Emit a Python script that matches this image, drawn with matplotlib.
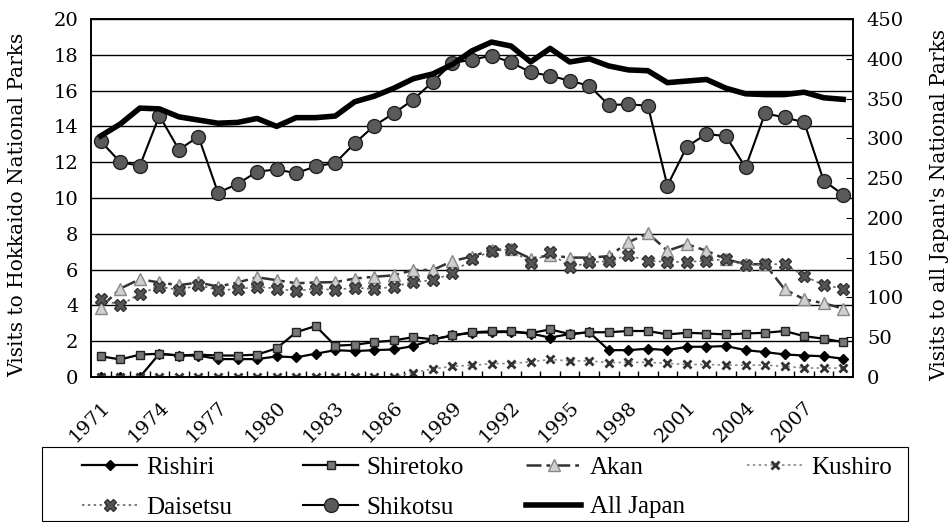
import numpy as np
import matplotlib
matplotlib.use("Agg")
import matplotlib.pyplot as plt
from matplotlib.patches import Rectangle

plt.rcParams['font.family'] = ['DejaVu Serif']

years = list(range(1971, 2010))

# million visits, left axis
rishiri = [0, 0, 0, 1.3, 1.2, 1.2, 1.0, 1.0, 1.0, 1.15, 1.1, 1.3, 1.5, 1.45,
           1.5, 1.54, 1.73, 2.1, 2.32, 2.47, 2.5, 2.52, 2.43, 2.2, 2.4, 2.5,
           1.5, 1.5, 1.58, 1.5, 1.69, 1.69, 1.73, 1.5, 1.39, 1.26, 1.2, 1.16, 1.02]
shiretoko = [1.16, 0.98, 1.25, 1.3, 1.2, 1.25, 1.2, 1.2, 1.25, 1.6, 2.5, 2.85,
             1.75, 1.8, 1.95, 2.04, 2.23, 2.1, 2.32, 2.5, 2.55, 2.55, 2.45, 2.66,
             2.4, 2.5, 2.5, 2.57, 2.57, 2.38, 2.47, 2.43, 2.38, 2.43, 2.47, 2.57,
             2.28, 2.14, 1.95]
akan = [3.88, 4.94, 5.46, 5.28, 5.13, 5.28, 5.05, 5.28, 5.57, 5.41, 5.24, 5.28,
        5.3, 5.5, 5.6, 5.68, 5.98, 5.98, 6.48, 6.73, 7.1, 7.13, 6.62, 6.8, 6.67,
        6.67, 6.75, 7.52, 8.04, 7.05, 7.42, 7.05, 6.58, 6.3, 6.3, 4.9, 4.34, 4.12, 3.82]
kushiro = [0, 0, 0, 0, 0, 0, 0, 0, 0, 0, 0, 0, 0, 0, 0, 0, 0.25, 0.45, 0.6,
           0.65, 0.75, 0.75, 0.85, 0.98, 0.9, 0.9, 0.8, 0.82, 0.82, 0.76, 0.7,
           0.7, 0.66, 0.66, 0.66, 0.6, 0.5, 0.5, 0.5]
daisetsu = [4.38, 4.0, 4.66, 5.05, 4.86, 5.13, 4.86, 4.9, 5.05, 4.94, 4.8, 4.94,
            4.86, 5.0, 4.9, 5.05, 5.31, 5.41, 5.8, 6.6, 7.02, 7.13, 6.36, 6.98,
            6.12, 6.4, 6.48, 6.8, 6.49, 6.43, 6.43, 6.49, 6.58, 6.25, 6.3, 6.3,
            5.65, 5.13, 4.94]
shikotsu = [13.17, 12.0, 11.8, 14.6, 12.7, 13.43, 10.3, 10.78, 11.47, 11.6,
            11.38, 11.77, 11.96, 13.06, 14.04, 14.73, 15.5, 16.5, 17.54, 17.73,
            17.95, 17.58, 17.02, 16.83, 16.55, 16.27, 15.2, 15.23, 15.16, 10.69,
            12.87, 13.58, 13.45, 11.71, 14.73, 14.5, 14.23, 10.97, 10.18]
# million visits, right axis
all_japan = [303, 318, 338, 337, 327, 323, 319, 320, 325, 315, 326, 326, 328,
             346, 353, 363, 375, 381, 393, 410, 421, 416, 396, 413, 396, 400,
             391, 386, 385, 370, 372, 374, 363, 356, 355, 355, 358, 351, 349]

x = np.arange(len(years))

fig = plt.figure(figsize=(9.52, 5.22), dpi=100)
ax = fig.add_axes([91/952, 1 - 377/522, (853 - 91)/952, (377 - 19)/522])
ax2 = ax.twinx()

l_ri, = ax.plot(x, rishiri, color='black', lw=1.6, marker='D', ms=5,
                mfc='black', mec='black')
l_sh, = ax.plot(x, shiretoko, color='black', lw=1.6, marker='s', ms=6,
                mfc='#777777', mec='#222222')
l_ak, = ax.plot(x, akan, color='#333333', lw=1.8, ls=(0, (6, 2, 1.5, 2)),
                marker='^', ms=8, mfc='#d0d0d0', mec='#888888')
l_ku, = ax.plot(x, kushiro, color='#888888', lw=1.2, ls=(0, (1.5, 2)),
                marker='x', ms=6, mew=2, mec='#333333')
l_da, = ax.plot(x, daisetsu, color='#666666', lw=1.2, ls=(0, (1.5, 2)),
                marker='X', ms=8, mfc='#555555', mec='#333333')
l_si, = ax.plot(x, shikotsu, color='black', lw=1.5, marker='o', ms=10,
                mfc='#5a5a5a', mec='#222222')
l_aj, = ax2.plot(x, all_japan, color='black', lw=4)

ax.set_xlim(-0.5, len(years) - 0.5)
ax.set_ylim(0, 20)
ax2.set_ylim(0, 450)
ax.set_yticks(np.arange(0, 21, 2))
ax2.set_yticks(np.arange(0, 451, 50))
ax.grid(axis='y', color='black', lw=1.0)
ax.set_axisbelow(True)

ax.set_xticks(np.arange(0.5, len(years) - 1, 1))
ax.set_xticklabels([])
ax.tick_params(axis='x', which='major', direction='in', length=4, width=1)
lab_idx = list(range(0, len(years), 3))
ax.set_xticks(lab_idx, minor=True)
ax.set_xticklabels([str(years[i]) for i in lab_idx], minor=True,
                   rotation=45, ha='right', rotation_mode='anchor')
ax.tick_params(axis='x', which='minor', length=0, pad=15, labelsize=14)
ax.tick_params(axis='y', direction='in', length=0, pad=9, labelsize=14)
ax2.tick_params(axis='y', direction='in', length=5, pad=10, labelsize=14)

for a in (ax, ax2):
    for s in a.spines.values():
        s.set_linewidth(1.2)

fig.text(18/952, 1 - 205/522, 'Visits to Hokkaido National Parks',
         rotation=90, ha='center', va='center', fontsize=14.5)
fig.text(940/952, 1 - 205/522, "Visits to all Japan's National Parks",
         rotation=90, ha='center', va='center', fontsize=14.5)

# legend box
fig.patches.append(Rectangle((42/952, 1 - 521/522), (908 - 42)/952,
                             (521 - 447)/522, transform=fig.transFigure,
                             fill=False, ec='black', lw=0.8))
groups = [([l_ri, l_da], ['Rishiri', 'Daisetsu']),
          ([l_sh, l_si], ['Shiretoko', 'Shikotsu']),
          ([l_ak, l_aj], ['Akan', 'All Japan']),
          ([l_ku], ['Kushiro'])]
col_x = [82, 303, 526, 747]
for (hs, ls), cx in zip(groups, col_x):
    fig.legend(hs, ls, loc='upper left', bbox_to_anchor=(cx/952, 1 - 456/522),
               frameon=False, borderpad=0, borderaxespad=0, handlelength=2.2,
               handletextpad=0.35, labelspacing=0.7, numpoints=1,
               prop={'family': 'Liberation Serif', 'size': 18})

fig.savefig('out.png', dpi=100)
